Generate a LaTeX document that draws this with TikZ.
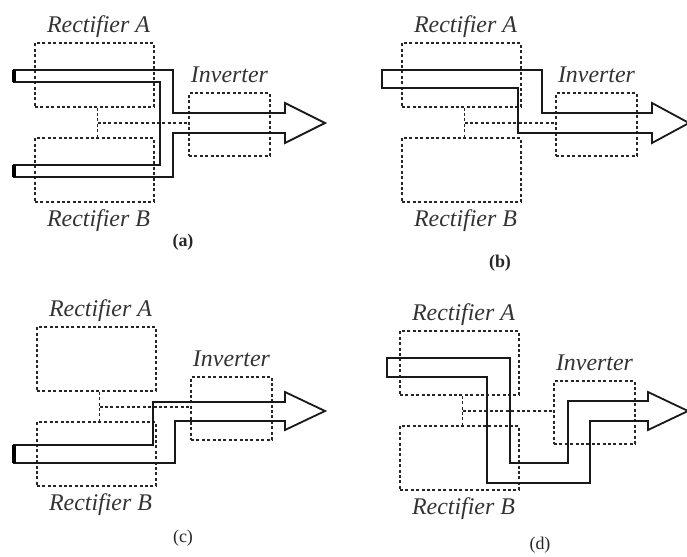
\documentclass[tikz,border=0pt]{standalone}
\usepackage{fontspec}
\setmainfont{Liberation Serif}
\usetikzlibrary{positioning}
\tikzset{
  unitbox/.style={draw=black!85, dash pattern=on 3bp off 2.4bp, line width=1.4bp, inner sep=0pt},
  linkline/.style={draw=black!85, dash pattern=on 3bp off 2.4bp, line width=1.4bp},
  boxlabel/.style={font=\fontsize{24}{24}\selectfont\itshape, text=black!80, inner sep=0pt},
  powerflow/.style={draw=black!90, line width=1.8bp, line join=miter},
  tailend/.style={draw=black, line width=3.5bp},
  panellabel/.style={font=\fontsize{18}{18}\selectfont, text=black!85, inner sep=0pt},
  panellabelbf/.style={font=\fontsize{18}{18}\selectfont\bfseries, text=black!85, inner sep=0pt}
}

\begin{document}
\begin{tikzpicture}[x=1bp,y=-1bp]
\useasboundingbox (0,0) rectangle (687,557);
% rectifiers, inverter and dc link of each panel
\foreach \p/\dx/\dy in {a/0/0, b/367/0, c/2/284, d/365/288}{
\begin{scope}[shift={(\dx,\dy)}]
\node[unitbox, minimum width=119bp, minimum height=64bp] (recA\p) at (94.5,75) {};
\node[unitbox, minimum width=119bp, minimum height=64bp] (recB\p) at (94.5,170) {};
\node[unitbox, minimum width=81bp, minimum height=63bp] (inv\p) at (229.5,124.5) {};
\node[boxlabel, above=10bp of recA\p, xshift=4bp, anchor=base] (labA\p) {Rectifier A};
\node[boxlabel, below=24bp of recB\p, xshift=4bp, anchor=base] (labB\p) {Rectifier B};
\node[boxlabel, above=10bp of inv\p, anchor=base] (labI\p) {Inverter};
\coordinate (dc\p) at (97.5,123);
\draw[linkline] (dc\p |- recA\p.south) -- (dc\p |- recB\p.north);
\draw[linkline] (dc\p) -- (dc\p -| inv\p.west);
\end{scope}
}
% (a) both rectifiers feed the inverter
\draw[powerflow] (13,70) -- (173,70) -- (173,113) -- (285,113) -- (285,103) -- (325,123) -- (285,143) -- (285,133) -- (173,133) -- (173,177) -- (13,177);
\draw[powerflow] (13,165) -- (160,165) -- (160,82) -- (13,82);
\draw[tailend] (14,70) -- (14,82) (14,165) -- (14,177);
% (b) rectifier A only
\draw[powerflow] (382,70) -- (542,70) -- (542,113) -- (652,113) -- (652,103) -- (689,123) -- (652,143) -- (652,133) -- (518,133) -- (518,88) -- (382,88) -- cycle;
% (c) rectifier B only
\draw[powerflow] (13,445) -- (153,445) -- (153,402) -- (285,402) -- (285,392) -- (325,411) -- (285,430) -- (285,421) -- (175,421) -- (175,463) -- (13,463);
\draw[tailend] (14,445) -- (14,463);
% (d) rectifier A through rectifier B
\draw[powerflow] (387,358) -- (510,358) -- (510,463) -- (568,463) -- (568,401) -- (648,401) -- (648,392) -- (688,411) -- (648,430) -- (648,421) -- (590,421) -- (590,483) -- (487,483) -- (487,377) -- (387,377) -- cycle;
\node[panellabelbf] (capa) at (183,242) {(a)};
\node[panellabelbf] (capb) at (500,263) {(b)};
\node[panellabel] (capc) at (183,538) {(c)};
\node[panellabel] (capd) at (540,545) {(d)};
\end{tikzpicture}
\end{document}
